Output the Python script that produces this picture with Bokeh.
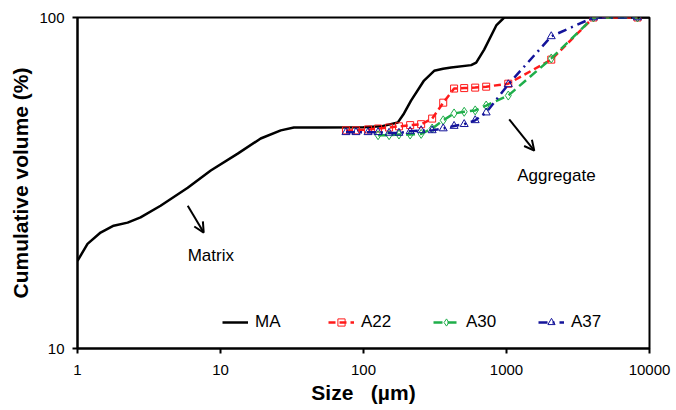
from bokeh.plotting import figure
from bokeh.models import (Legend, LegendItem, Arrow, OpenHead, Label,
                          FixedTicker, PrintfTickFormatter)
from bokeh.embed import file_html
from bokeh.resources import INLINE

# ---------------- data ----------------
ma_size = [1, 1.175, 1.45, 1.79, 2.24, 2.76, 3.81, 5.9, 8.55, 13.2, 19.1, 26.4,
           32.6, 50.4, 100, 133, 174, 192, 215, 265, 312, 360, 410, 566, 614,
           698, 848, 964, 10000]
ma_vol = [18.4, 20.7, 22.4, 23.5, 24.0, 24.9, 27.0, 30.6, 34.5, 38.8, 43.1,
          45.6, 46.5, 46.5, 46.6, 46.9, 48.2, 51.3, 56.1, 64.5, 69.0, 70.0,
          70.6, 71.8, 73.1, 80.0, 94.6, 100, 100]

a22_size = [75.4, 88.6, 107.6, 126.4, 151, 177, 212, 253, 302, 361, 430, 506,
            604, 721, 1029, 2056, 4055, 8240]
a22_vol = [45.6, 45.6, 45.9, 46.2, 46.5, 46.9, 47.3, 47.6, 49.5, 55.3, 61.0,
           61.2, 61.4, 61.8, 63.1, 74.6, 100, 100]

a30_size = [126.4, 151, 177, 212, 253, 302, 361, 430, 506, 604, 721, 1029,
            2056, 4055, 8240]
a30_vol = [44.1, 44.1, 44.3, 44.3, 44.5, 46.2, 48.9, 51.3, 51.9, 52.4, 54.2,
           58.1, 75.2, 100, 100]

a37_size = [75.4, 88.6, 107.6, 126.4, 151, 177, 212, 253, 302, 361, 430, 506,
            604, 721, 1029, 2056, 4055, 8240]
a37_vol = [45.0, 45.0, 45.0, 45.0, 44.8, 44.8, 45.3, 45.6, 45.6, 46.2, 47.0,
           47.6, 48.9, 51.6, 62.8, 87.7, 100, 100]

x_ticks = [1, 10, 100, 1000, 10000]
y_ticks = [10, 100]

# annotation anchors (data coords)
matrix_arrow = dict(x0=5.9, y0=27.0, x1=7.63, y1=22.4)
matrix_text = dict(x=8.55, y=19.1, text="Matrix")
agg_arrow = dict(x0=1045, y0=49.2, x1=1564, y1=39.6)
agg_text = dict(x=2232, y=33.3, text="Aggregate")

FONT = "Liberation Sans"

p = figure(width=676, height=410, x_axis_type="log", y_axis_type="log",
           x_range=(1, 10000), y_range=(10, 100), output_backend="svg",
           toolbar_location=None, min_border_left=77, min_border_right=27,
           min_border_top=17, min_border_bottom=62)
p.grid.visible = False
p.outline_line_color = "black"
p.outline_line_width = 2
p.background_fill_color = "white"
p.border_fill_color = "white"

for ax in (p.xaxis[0], p.yaxis[0]):
    ax.axis_line_width = 2
    ax.axis_line_color = "black"
    ax.major_tick_line_width = 2
    ax.major_tick_out = 5
    ax.major_tick_in = 0
    ax.minor_tick_line_color = None
    ax.major_label_text_font = FONT
    ax.major_label_text_font_size = "15px"
    ax.major_label_text_color = "black"
    ax.axis_label_text_font = FONT
    ax.axis_label_text_font_style = "bold"
    ax.axis_label_text_font_size = "21px"
    ax.axis_label_text_color = "black"
    ax.formatter = PrintfTickFormatter(format="%d")

p.xaxis.ticker = FixedTicker(ticks=x_ticks, minor_ticks=[])
p.yaxis.ticker = FixedTicker(ticks=y_ticks, minor_ticks=[])
p.xaxis.axis_label = "Size\u00a0\u00a0\u00a0(µm)"
p.yaxis.axis_label = "Cumulative volume (%)"
p.xaxis.major_label_standoff = 11
p.yaxis.major_label_standoff = 8
p.xaxis.axis_label_standoff = 3
p.yaxis.axis_label_standoff = 4

RED = "#ff1a1a"
GREEN = "#1fae4a"
BLUE = "#14149a"

r_ma = p.line(ma_size, ma_vol, line_color="black", line_width=2.5)
l22 = p.line(a22_size, a22_vol, line_color=RED, line_width=2.5, line_dash="7 4")
m22 = p.scatter(a22_size, a22_vol, marker="square", size=7, fill_color=None,
                line_color=RED, line_width=1)
l30 = p.line(a30_size, a30_vol, line_color=GREEN, line_width=2.5, line_dash="9 5")
m30 = p.scatter(a30_size, a30_vol, marker="diamond", size=9, fill_color=None,
                line_color=GREEN, line_width=1)
l37 = p.line(a37_size, a37_vol, line_color=BLUE, line_width=2.5,
             line_dash="9 5 2 5")
m37 = p.scatter(a37_size, a37_vol, marker="triangle", size=8, fill_color=None,
                line_color=BLUE, line_width=1)

items = [("MA", [r_ma], 145), ("A22", [l22, m22], 251),
         ("A30", [l30, m30], 356), ("A37", [l37, m37], 461)]
for label, rs, xoff in items:
    lg = Legend(items=[LegendItem(label=label, renderers=rs)],
                location=(xoff, 16), orientation="horizontal",
                padding=0, margin=0, glyph_width=26, glyph_height=18,
                label_standoff=7, border_line_color=None,
                background_fill_alpha=0, label_text_font=FONT,
                label_text_font_size="17px", label_text_color="black")
    p.add_layout(lg, "center")

for a in (matrix_arrow, agg_arrow):
    p.add_layout(Arrow(x_start=a["x0"], y_start=a["y0"], x_end=a["x1"],
                       y_end=a["y1"], line_width=2, line_color="black",
                       end=OpenHead(size=10, line_width=2, line_color="black")))
for t in (matrix_text, agg_text):
    p.add_layout(Label(x=t["x"], y=t["y"], text=t["text"], text_align="center",
                       text_baseline="middle", text_font=FONT,
                       text_font_size="17px", text_color="black"))

open("out.html", "w").write(file_html(p, INLINE))
